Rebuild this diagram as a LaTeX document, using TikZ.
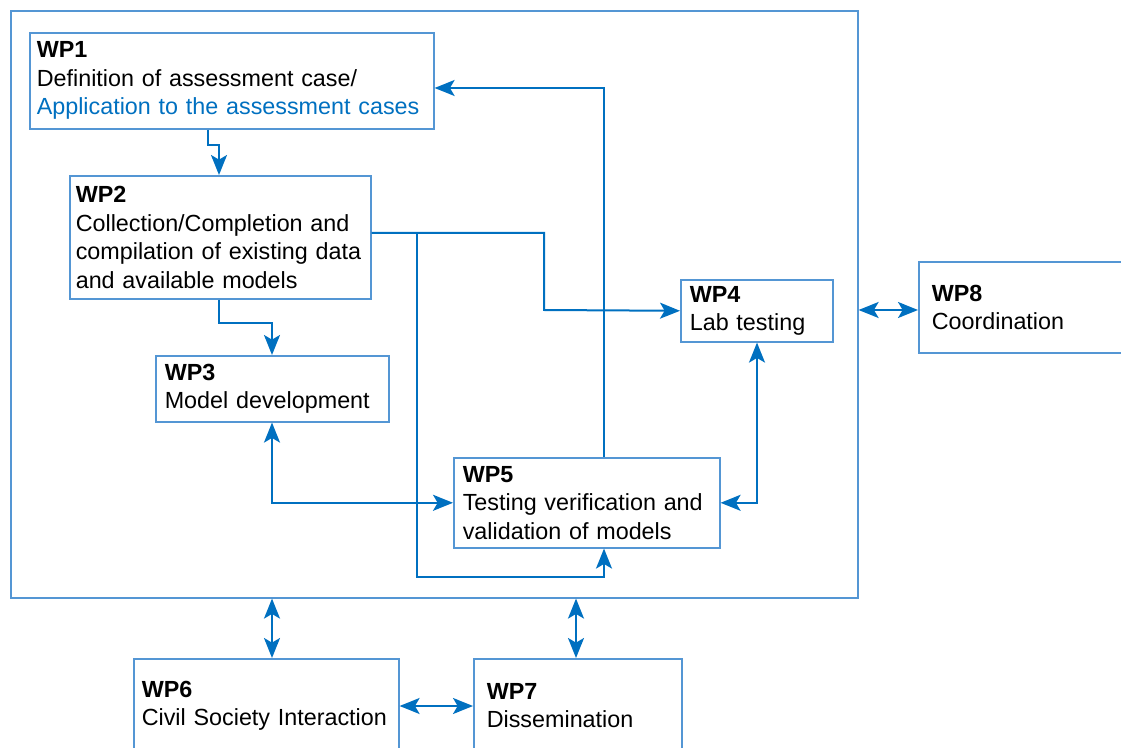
\documentclass[tikz,border=0pt]{standalone}
\usepackage{fontspec}
\setmainfont{Liberation Sans}
\usepackage{xcolor}
\usetikzlibrary{arrows.meta}
\definecolor{boxblue}{RGB}{84,150,212}
\definecolor{arrblue}{RGB}{0,112,192}
\newcommand{\wpfont}{\fontsize{17.5pt}{21.4pt}\selectfont}

\begin{document}
\begin{tikzpicture}[x=0.75pt, y=-0.75pt,
  box/.style = {draw=boxblue, line width=1.2pt, anchor=north west, align=left, inner xsep=6.75pt, inner ysep=0pt, font=\wpfont},
  group/.style = {draw=boxblue, line width=1.2pt, anchor=north west, inner sep=0pt},
  arr/.style = {arrblue, line width=1.5pt, -{Stealth[length=15pt, width=12pt, inset=3.5pt]}},
  dbl/.style = {arrblue, line width=1.5pt, {Stealth[length=15pt, width=12pt, inset=3.5pt]}-{Stealth[length=15pt, width=12pt, inset=3.5pt]}}]
\clip (0,0) rectangle (1121,748);
\node[group, minimum width=635.25pt, minimum height=440.25pt] (wps) at (10,10) {};
\node[box, inner xsep=5.25pt, text width=292.5pt, minimum height=72pt] (wp1) at (29,32) {\textbf{WP1}\\Definition of assessment case/\\\textcolor{arrblue}{Application to the assessment cases}};
\node[box, inner xsep=4.5pt, text width=216.75pt, minimum height=92.25pt] (wp2) at (69,175) {\textbf{WP2}\\Collection/Completion and\\compilation of existing data\\and available models};
\node[box, text width=161.25pt, minimum height=49.5pt] (wp3) at (155,355) {\textbf{WP3}\\Model development};
\node[box, text width=100.5pt, minimum height=46.5pt] (wp4) at (680,279) {\textbf{WP4}\\Lab testing};
\node[box, text width=186pt, minimum height=67.5pt] (wp5) at (453,457) {\textbf{WP5}\\Testing verification and\\validation of models};
\node[box, inner xsep=9.75pt, text width=139.5pt, minimum height=68.25pt] (wp8) at (918,261) {\textbf{WP8}\\Coordination};
\node[box, inner xsep=6pt, text width=186.75pt, minimum height=70.5pt] (wp6) at (133,658) {\textbf{WP6}\\Civil Society Interaction};
\node[box, inner xsep=9.75pt, text width=136.5pt, minimum height=70.5pt] (wp7) at (473,658) {\textbf{WP7}\\Dissemination};
% inside the group
\draw[arr] (wp1.south -| 208,0) |- (219,145) -- (wp2.north -| 219,0);
\draw[arr] (wp2.south -| 219,0) |- (272,323) -- (wp3.north -| 272,0);
\draw[dbl] (wp3.south -| 272,0) |- (wp5.west);
\draw[dbl] (wp5.east) -| (wp4.south -| 757,0);
\draw[arr] (wp2.east |- 0,233) -| (544,310) -- (wp4.west);
\draw[arr] (417,233) |- (604,577) -- (wp5.south -| 604,0);
\draw[arr] (wp5.north -| 604,0) |- (wp1.east |- 0,88);
% outside
\draw[dbl] (wps.east |- 0,310) -- (wp8.west |- 0,310);
\draw[dbl] (wps.south -| 272,0) -- (wp6.north -| 272,0);
\draw[dbl] (wps.south -| 576,0) -- (wp7.north -| 576,0);
\draw[dbl] (wp6.east |- 0,706) -- (wp7.west |- 0,706);
\end{tikzpicture}
\end{document}
